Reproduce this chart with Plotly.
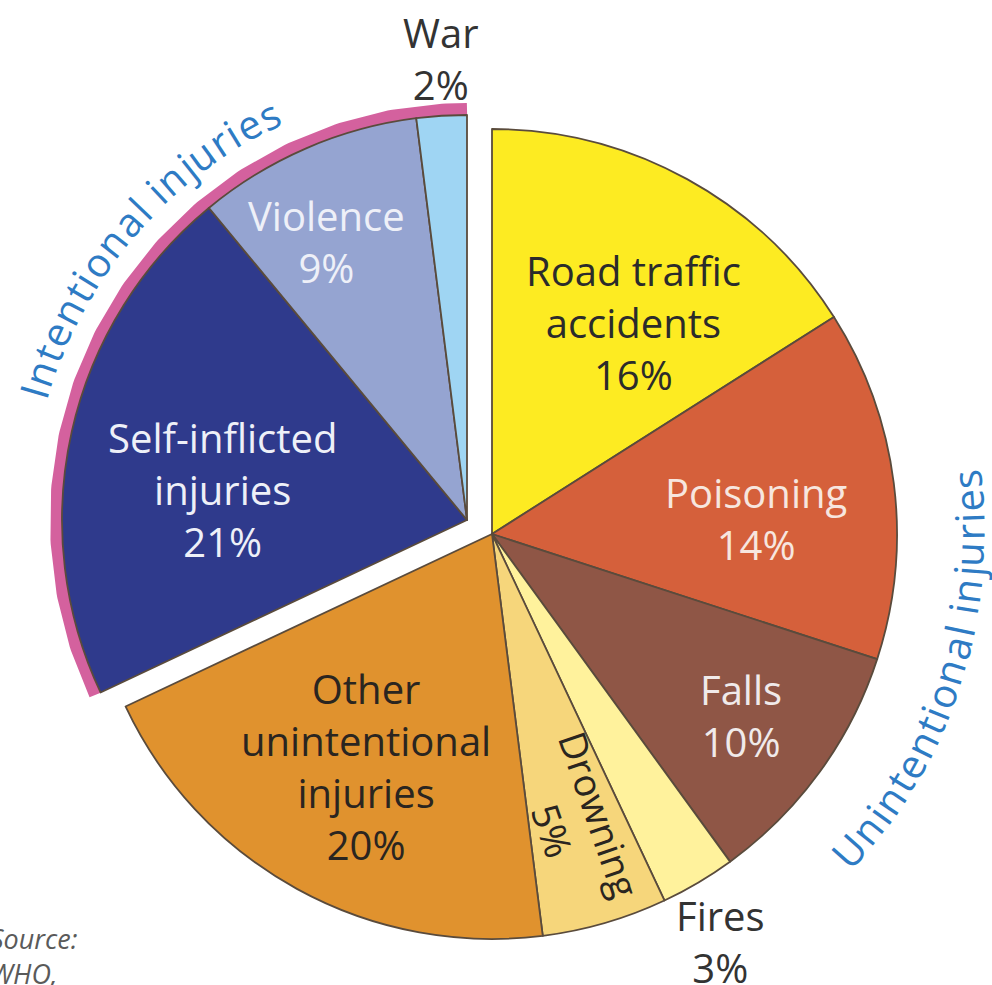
import math
import plotly.graph_objects as go

# ---------------- data ----------------
labels = ["Road traffic accidents", "Poisoning", "Falls", "Fires", "Drowning",
          "Other unintentional injuries", "Self-inflicted injuries", "Violence", "War"]
values = [16, 14, 10, 3, 5, 20, 21, 9, 2]
groups = ["Unintentional", "Unintentional", "Unintentional", "Unintentional", "Unintentional",
          "Unintentional", "Intentional", "Intentional", "Intentional"]
label_lines = [["Road traffic", "accidents"], ["Poisoning"], ["Falls"], ["Fires"], ["Drowning"],
               ["Other", "unintentional", "injuries"], ["Self-inflicted", "injuries"],
               ["Violence"], ["War"]]
group_titles = ["Intentional injuries", "Unintentional injuries"]
source_lines = ["Source:", "WHO,"]

# ---------------- styling / layout ----------------
W, H = 992, 985
R = 405
centers = {"Unintentional": (492, 534), "Intentional": (467, 520)}
colors = ["#FDEB22", "#D5603B", "#8F5646", "#FFF29C", "#F6D67B",
          "#E0922E", "#2F3A8C", "#95A4D1", "#9FD5F3"]
text_colors = ["#2b2b2b", "#f7e6df", "#f0eaea", "#333333", "#2a2520",
               "#2a2520", "#eef0f8", "#eef0f8", "#333333"]
label_pos = [(633, 322), (756, 518), (741, 715), (720, 941), (577, 822),
             (366, 766), (222, 489), (326, 241), (441, 58)]
label_angle = [0, 0, 0, 0, 71, 0, 0, 0, 0]
label_size = [40, 40, 40, 40, 38, 40, 40, 40, 40]
FONT = "Open Sans"
BORDER = "#5a4b3c"
PINK = "#D4619E"
BLUE = "#2E7BC4"

total = sum(values)
starts = []
acc = 0
for v in values:
    starts.append(acc / total * 360.0)
    acc += v
ends = [s + v / total * 360.0 for s, v in zip(starts, values)]


def domain(c):
    cx, cy = c
    return dict(x=[(cx - R) / W, (cx + R) / W], y=[1 - (cy + R) / H, 1 - (cy - R) / H])


fig = go.Figure()

# pink group arc (drawn on hidden pixel-mapped axes, under the pies)
icx, icy = centers["Intentional"]
i_idx = [i for i, g in enumerate(groups) if g == "Intentional"]
a0, a1 = starts[i_idx[0]], ends[i_idx[-1]]
n = 200
arc_r = R + 6
xs = [icx + arc_r * math.sin(math.radians(a0 + (a1 - a0) * k / n)) for k in range(n + 1)]
ys = [icy - arc_r * math.cos(math.radians(a0 + (a1 - a0) * k / n)) for k in range(n + 1)]
fig.add_trace(go.Scatter(x=xs, y=ys, mode="lines", line=dict(color=PINK, width=12),
                         hoverinfo="skip", showlegend=False))

for grp in ["Unintentional", "Intentional"]:
    cols = [c if g == grp else "rgba(0,0,0,0)" for c, g in zip(colors, groups)]
    lw = [1.8 if g == grp else 0 for g in groups]
    fig.add_trace(go.Pie(
        labels=labels, values=values, sort=False, direction="clockwise", rotation=0,
        marker=dict(colors=cols, line=dict(color=BORDER, width=lw)),
        textinfo="none", hoverinfo="skip", showlegend=False,
        domain=domain(centers[grp]),
    ))

annotations = []
for i in range(len(labels)):
    txt = "<br>".join(label_lines[i] + ["%d%%" % values[i]])
    x, y = label_pos[i]
    annotations.append(dict(text=txt, x=x / W, y=1 - y / H, xref="paper", yref="paper",
                            showarrow=False, textangle=label_angle[i], align="center",
                            xanchor="center", yanchor="middle",
                            font=dict(family=FONT, size=label_size[i], color=text_colors[i])))

# curved group titles
WIDTHS = {"I": .276, "n": .612, "t": .361, "e": .561, "i": .258, "o": .602, "a": .556,
          "l": .258, " ": .26, "j": .258, "u": .612, "r": .408, "s": .479, "U": .728}


def arc_text(text, cx, cy, r, th0, th1, rot_offset, size, color):
    adv = [WIDTHS.get(ch, 0.55) for ch in text]
    cs = []
    a = 0
    for w in adv:
        cs.append(a + w / 2)
        a += w
    c0, c1 = cs[0], cs[-1]
    out = []
    for ch, c in zip(text, cs):
        if ch == " ":
            continue
        t = th0 + (th1 - th0) * (c - c0) / (c1 - c0)
        x = cx + r * math.sin(math.radians(t))
        y = cy - r * math.cos(math.radians(t))
        ang = t + rot_offset
        while ang > 180:
            ang -= 360
        while ang <= -180:
            ang += 360
        out.append(dict(text=ch, x=x / W, y=1 - y / H, xref="paper", yref="paper",
                        showarrow=False, textangle=ang, xanchor="center", yanchor="middle",
                        font=dict(family=FONT, size=size, color=color)))
    return out


annotations += arc_text(group_titles[0], icx, icy, 452, 286.5, 333.9, -360, 40, BLUE)
ucx, ucy = centers["Unintentional"]
annotations += arc_text(group_titles[1], ucx, ucy, 477, 131.6, 83.4, -180, 40, BLUE)

annotations.append(dict(text="<i>" + "<br>".join(source_lines) + "</i>", x=-12 / W, y=1 - 956 / H,
                        xref="paper", yref="paper", showarrow=False, align="left",
                        xanchor="left", yanchor="middle",
                        font=dict(family=FONT, size=27, color="#5a5a5a")))

fig.update_layout(
    width=W, height=H, margin=dict(l=0, r=0, t=0, b=0),
    paper_bgcolor="white", plot_bgcolor="white",
    xaxis=dict(range=[0, W], visible=False, domain=[0, 1], fixedrange=True),
    yaxis=dict(range=[H, 0], visible=False, domain=[0, 1], fixedrange=True),
    annotations=annotations, showlegend=False,
)

fig.write_html("out.html", config={"displayModeBar": False},
               post_script="document.body.style.margin='0';document.body.style.overflow='hidden';")
